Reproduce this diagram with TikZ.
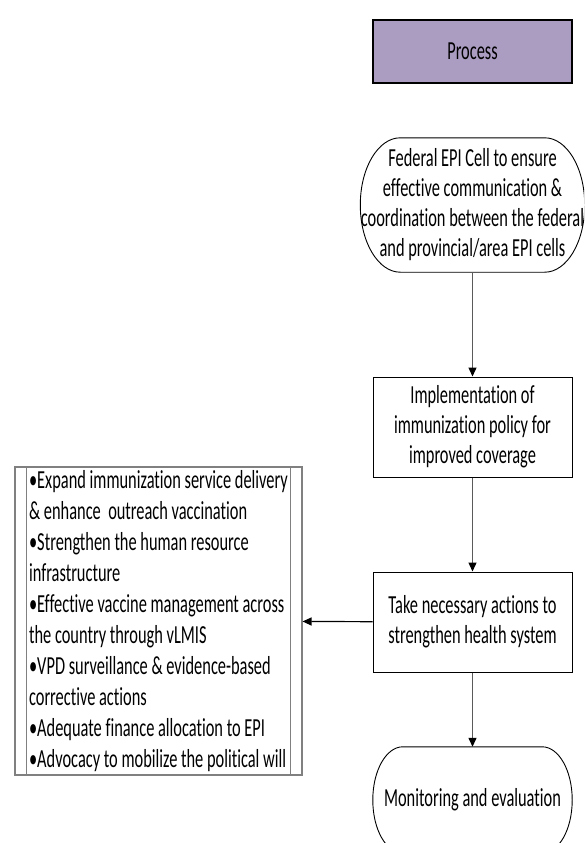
\documentclass[tikz,border=0pt]{standalone}
\usepackage{fontspec}
\setmainfont{Carlito}[FakeStretch=0.63,Ligatures=NoCommon]
\usetikzlibrary{arrows.meta,calc}
\definecolor{EpiPurple}{RGB}{171,156,194}
\definecolor{EpiDarkGray}{RGB}{90,90,90}
\definecolor{EpiMidGray}{RGB}{128,128,128}
\tikzset{
  epi/box/.style={
    draw=black,
    line width=1pt,
    fill=white,
    align=center,
    minimum width=199pt,
    inner sep=0pt,
    font=\fontsize{26}{30}\selectfont
  },
  epi/head/.style={
    epi/box,
    fill=EpiPurple,
    line width=1.6pt,
    minimum height=63pt
  },
  epi/term/.style={
    align=center,
    inner sep=0pt,
    font=\fontsize{26}{30}\selectfont
  },
  epi/outline/.style={draw=black, line width=0.9pt},
  epi/list/.style={
    draw=EpiMidGray,
    line width=1.1pt,
    fill=white,
    align=left,
    minimum width=287pt,
    minimum height=308pt,
    inner sep=0pt,
    font=\fontsize{26}{31}\selectfont
  },
  epi/arrow/.style={-{Triangle[length=9pt,width=8pt,color=black]}, line width=1.3pt, draw=EpiDarkGray},
  epi/blackarrow/.style={-{Triangle[length=9pt,width=8pt]}, line width=1.2pt, draw=black}
}
% terminator outline with elliptic corners: node, x radius, y radius
\newcommand{\epiterm}[3]{%
  \draw[epi/outline] ($(#1.north west)+(#2,0)$) -- ($(#1.north east)-(#2,0)$)
    arc[start angle=90,end angle=0,x radius=#2,y radius=#3]
    -- ($(#1.south east)+(0,#3)$)
    arc[start angle=0,end angle=-90,x radius=#2,y radius=#3]
    -- ($(#1.south west)+(#2,0)$)
    arc[start angle=270,end angle=180,x radius=#2,y radius=#3]
    -- ($(#1.north west)-(0,#3)$)
    arc[start angle=180,end angle=90,x radius=#2,y radius=#3] -- cycle;}

\begin{document}
\begin{tikzpicture}[x=1pt,y=1pt]
  \useasboundingbox (0,0) rectangle (584,-843);
  \clip (0,0) rectangle (584,-843);
  \node[epi/head] (proc) at (472.5,-51.5) {Process};
  \node[epi/term,minimum width=224pt,minimum height=134pt] (fed) at (472.5,-205) {Federal EPI Cell to ensure\\effective communication \&\\coordination between the federal\\and provincial/area EPI cells};
  \epiterm{fed}{40}{67}
  \node[epi/box,minimum height=100pt] (impl) at (472.5,-427) {Implementation of\\immunization policy for\\improved coverage};
  \node[epi/box,minimum height=100pt] (act) at (472.5,-622) {Take necessary actions to\\strengthen health system};
  \node[epi/term,minimum width=199pt,minimum height=106pt] (mon) at (472.5,-800) {Monitoring and evaluation};
  \epiterm{mon}{30}{53}
  \node[epi/list] (list) at (158.5,-621) {•Expand immunization service delivery\\\& enhance\ \ outreach vaccination\\•Strengthen the human resource\\infrastructure\\•Effective vaccine management across\\the country through vLMIS\\•VPD surveillance \& evidence-based\\corrective actions\\•Adequate finance allocation to EPI\\•Advocacy to mobilize the political will};
  \draw[draw=EpiMidGray,line width=1.1pt] ($(list.north west)+(12,0)$) -- ($(list.south west)+(12,0)$);
  \draw[draw=EpiMidGray,line width=1.1pt] ($(list.north east)-(12,0)$) -- ($(list.south east)-(12,0)$);
  \draw[epi/arrow] (fed) -- (impl);
  \draw[epi/arrow] (impl) -- (act);
  \draw[epi/arrow] (act) -- (mon);
  \draw[epi/blackarrow] (act) -- (list);
\end{tikzpicture}
\end{document}
